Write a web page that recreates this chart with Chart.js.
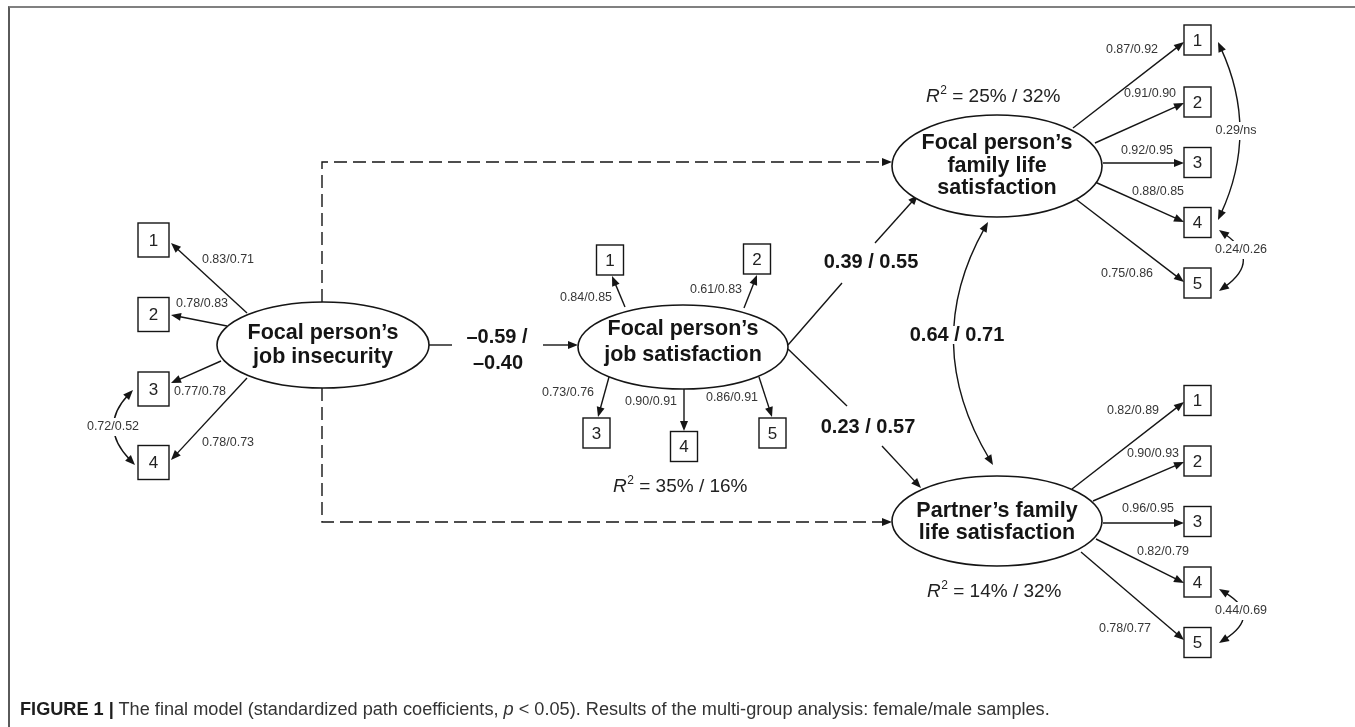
<!DOCTYPE html>
<html lang="en">
  <head>
    <meta charset="UTF-8" />
    <title>Figure 1 - final model</title>
    <script src="https://cdn.jsdelivr.net/npm/chart.js"></script>
    <style>
      html, body { margin: 0; padding: 0; background: #fff; }
      body {
        width: 1355px; height: 727px; overflow: hidden; position: relative;
        font-family: "Liberation Sans", Arial, sans-serif;
      }
      #frame {
        position: absolute; left: 8px; top: 6px; width: 1360px; height: 740px;
        border-top: 2px solid #808080; border-left: 2px solid #5a5a5a;
      }
      #diagram { position: absolute; left: 0; top: 0; }
      #caption {
        position: absolute; left: 20px; top: 699px; font-size: 17.5px; color: #333;
        white-space: nowrap; transform-origin: left top;
      }
      #caption b { color: #1d1d1d; }
    </style>
  </head>
  <body>
    <div id="frame"></div>
    <canvas id="diagram" width="1355" height="727"></canvas>
    <div id="caption"><b>FIGURE 1 |</b> The final model (standardized path coefficients, <i>p</i> &lt; 0.05). Results of the multi-group analysis: female/male samples.</div>

    <script>
      // values: female / male samples
      const indicatorNames = ["1", "2", "3", "4", "5"];

      const insecurityFemale = [0.83, 0.78, 0.77, 0.78];
      const insecurityMale = [0.71, 0.83, 0.78, 0.73];
      const jobSatFemale = [0.84, 0.61, 0.73, 0.90, 0.86];
      const jobSatMale = [0.85, 0.83, 0.76, 0.91, 0.91];
      const focalFamilyFemale = [0.87, 0.91, 0.92, 0.88, 0.75];
      const focalFamilyMale = [0.92, 0.90, 0.95, 0.85, 0.86];
      const partnerFamilyFemale = [0.82, 0.90, 0.96, 0.82, 0.78];
      const partnerFamilyMale = [0.89, 0.93, 0.95, 0.79, 0.77];

      // structural paths: insecurity->jobSat, jobSat->focalFamily, jobSat->partnerFamily
      const pathFemale = [-0.59, 0.39, 0.23];
      const pathMale = [-0.40, 0.55, 0.57];
      const familyCorrelation = [0.64, 0.71];

      // error covariances: insecurity 3-4, focal family 1-4, focal family 4-5, partner family 4-5
      const errorCovFemale = [0.72, 0.29, 0.24, 0.44];
      const errorCovMale = [0.52, null, 0.26, 0.69]; // null = ns

      // explained variance (%): jobSat, focalFamily, partnerFamily
      const rSquaredFemale = [35, 25, 14];
      const rSquaredMale = [16, 32, 32];

      // layout, in diagram units
      const layout = {
        insecurity: {
          ellipse: [323, 345, 106, 43], text: ["Focal person\u2019s", "job insecurity"], textY: [333, 357],
          boxes: { x: [153.5, 153.5, 153.5, 153.5], y: [240, 314.5, 389, 462.5], w: 31, h: 34 },
          arrows: [[247, 313, 171, 243], [227, 326, 171, 315], [221, 361, 171, 383], [247, 378, 171, 460]],
          labels: [[228, 260], [202, 304], [200, 392], [228, 443]],
        },
        jobSat: {
          ellipse: [683, 347, 105, 42], text: ["Focal person\u2019s", "job satisfaction"], textY: [329, 355],
          boxes: { x: [610, 757, 596.5, 684, 772.5], y: [260, 259, 433, 446.5, 433], w: 27, h: 30 },
          arrows: [[625, 307, 612, 276], [744, 308, 757, 275], [609, 377, 598, 417], [684, 389, 684, 431], [759, 377, 772, 417]],
          labels: [[586, 298], [716, 290], [568, 393], [651, 402], [732, 398]],
          r2: [680, 487],
        },
        focalFamily: {
          ellipse: [997, 166, 105, 51], text: ["Focal person\u2019s", "family life", "satisfaction"], textY: [143, 166, 188],
          boxes: { x: [1197.5, 1197.5, 1197.5, 1197.5, 1197.5], y: [40, 102, 162.5, 222.5, 283], w: 27, h: 30 },
          arrows: [[1073, 128, 1184, 42], [1095, 143, 1184, 103], [1103, 163, 1184, 163], [1095, 182, 1184, 222], [1073, 197, 1184, 282]],
          labels: [[1132, 50], [1150, 94], [1147, 151], [1158, 192], [1127, 274]],
          r2: [993, 97],
        },
        partnerFamily: {
          ellipse: [997, 521, 105, 45], text: ["Partner\u2019s family", "life satisfaction"], textY: [511, 533],
          boxes: { x: [1197.5, 1197.5, 1197.5, 1197.5, 1197.5], y: [400.5, 461, 521.5, 582, 642.5], w: 27, h: 30 },
          arrows: [[1072, 489, 1184, 402], [1093, 501, 1184, 462], [1103, 523, 1184, 523], [1096, 539, 1184, 583], [1081, 552, 1184, 640]],
          labels: [[1133, 411], [1153, 454], [1148, 509], [1163, 552], [1125, 629]],
          r2: [994, 592],
        },
        paths: [
          { line: [[428, 345], [452, 345]], arrow: [[543, 345], [578, 345]], label: [[497, 337], [498, 363]] },
          { line: [[788, 345], [842, 283]], arrow: [[875, 243], [918, 195]], label: [[871, 262]] },
          { line: [[788, 349], [847, 406]], arrow: [[882, 446], [921, 488]], label: [[868, 427]] },
        ],
        dashed: [
          [[322, 302], [322, 162], [892, 162]],
          [[322, 388], [322, 522], [892, 522]],
        ],
        familyCurve: { p: [[988, 222], [920, 343], [993, 465]], label: [957, 335] },
        errorCurves: [
          { p: [[133, 390], [98, 427], [135, 465]], label: [113, 427] },
          { p: [[1218, 42], [1259, 131], [1218, 220]], label: [1236, 131] },
          { p: [[1219, 230], [1262, 260], [1219, 291]], label: [1241, 250] },
          { p: [[1219, 589], [1262, 615], [1219, 643]], label: [1241, 611] },
        ],
      };

      const INK = "#151515";
      const FONT = '"Liberation Sans", Arial, sans-serif';

      function fmt(v) {
        if (v === null) return "ns";
        return (v < 0 ? "\u2013" : "") + Math.abs(v).toFixed(2);
      }

      const pathDiagram = {
        id: "pathDiagram",
        afterDraw(chart) {
          const ctx = chart.ctx;
          const sx = chart.scales.x;
          const sy = chart.scales.y;
          const P = (pt) => [sx.getPixelForValue(pt[0]), sy.getPixelForValue(pt[1])];

          ctx.save();
          ctx.strokeStyle = INK;
          ctx.fillStyle = INK;
          ctx.lineCap = "butt";

          function head(tip, ang) {
            const L = 10, W = 4;
            ctx.beginPath();
            ctx.moveTo(tip[0], tip[1]);
            ctx.lineTo(tip[0] - L * Math.cos(ang) + W * Math.sin(ang), tip[1] - L * Math.sin(ang) - W * Math.cos(ang));
            ctx.lineTo(tip[0] - L * Math.cos(ang) - W * Math.sin(ang), tip[1] - L * Math.sin(ang) + W * Math.cos(ang));
            ctx.closePath();
            ctx.fill();
          }

          function polyline(pts, withHead, dash) {
            const px = pts.map(P);
            let last = px[px.length - 1];
            const prev = px[px.length - 2];
            const ang = Math.atan2(last[1] - prev[1], last[0] - prev[0]);
            ctx.lineWidth = 1.4;
            ctx.setLineDash(dash || []);
            ctx.beginPath();
            ctx.moveTo(px[0][0], px[0][1]);
            for (let i = 1; i < px.length - 1; i++) ctx.lineTo(px[i][0], px[i][1]);
            const end = withHead ? [last[0] - 8 * Math.cos(ang), last[1] - 8 * Math.sin(ang)] : last;
            ctx.lineTo(end[0], end[1]);
            ctx.stroke();
            ctx.setLineDash([]);
            if (withHead) head(last, ang);
          }

          function curve(c, text, font) {
            const [a, k, b] = c.p.map(P);
            const a0 = Math.atan2(a[1] - k[1], a[0] - k[0]);
            const b0 = Math.atan2(b[1] - k[1], b[0] - k[0]);
            ctx.lineWidth = 1.4;
            ctx.beginPath();
            ctx.moveTo(a[0] - 7 * Math.cos(a0), a[1] - 7 * Math.sin(a0));
            ctx.quadraticCurveTo(k[0], k[1], b[0] - 7 * Math.cos(b0), b[1] - 7 * Math.sin(b0));
            ctx.stroke();
            head(a, a0);
            head(b, b0);
            const lp = P(c.label);
            ctx.font = font;
            const w = ctx.measureText(text).width;
            ctx.fillStyle = "#fff";
            ctx.fillRect(lp[0] - w / 2 - 2, lp[1] - 9, w + 4, 18);
            ctx.fillStyle = font.indexOf("bold") >= 0 ? INK : "#363636";
            ctx.fillText(text, lp[0], lp[1]);
            ctx.fillStyle = INK;
          }

          function latent(node) {
            const [cx, cy, rx, ry] = node.ellipse;
            const c = P([cx, cy]);
            const rxp = Math.abs(sx.getPixelForValue(cx + rx) - c[0]);
            const ryp = Math.abs(sy.getPixelForValue(cy + ry) - c[1]);
            ctx.fillStyle = "#fff";
            ctx.lineWidth = 1.6;
            ctx.beginPath();
            ctx.ellipse(c[0], c[1], rxp, ryp, 0, 0, Math.PI * 2);
            ctx.fill();
            ctx.stroke();
            ctx.fillStyle = INK;
            ctx.font = "bold 21.5px " + FONT;
            ctx.textAlign = "center";
            ctx.textBaseline = "middle";
            node.text.forEach((t, i) => ctx.fillText(t, c[0], sy.getPixelForValue(node.textY[i])));
          }

          function indicators(node, female, male) {
            const b = node.boxes;
            female.forEach((f, i) => {
              const a = node.arrows[i];
              polyline([[a[0], a[1]], [a[2], a[3]]], true);
            });
            ctx.lineWidth = 1.4;
            female.forEach((f, i) => {
              const c = P([b.x[i], b.y[i]]);
              ctx.fillStyle = "#fff";
              ctx.fillRect(c[0] - b.w / 2, c[1] - b.h / 2, b.w, b.h);
              ctx.strokeRect(c[0] - b.w / 2, c[1] - b.h / 2, b.w, b.h);
              ctx.fillStyle = "#222";
              ctx.font = "17px " + FONT;
              ctx.fillText(indicatorNames[i], c[0], c[1] + 1);
              ctx.fillStyle = "#363636";
              ctx.font = "12.5px " + FONT;
              const lp = P(node.labels[i]);
              ctx.fillText(fmt(f) + "/" + fmt(male[i]), lp[0], lp[1]);
            });
            ctx.fillStyle = INK;
          }

          function rSquared(pos, f, m) {
            const c = P(pos);
            const rest = " = " + f + "% / " + m + "%";
            ctx.font = "italic 19px " + FONT;
            const wR = ctx.measureText("R").width;
            ctx.font = "12px " + FONT;
            const w2 = ctx.measureText("2").width;
            ctx.font = "19px " + FONT;
            const wRest = ctx.measureText(rest).width;
            let x0 = c[0] - (wR + w2 + wRest) / 2;
            ctx.textAlign = "left";
            ctx.fillStyle = "#222";
            ctx.font = "italic 19px " + FONT;
            ctx.fillText("R", x0, c[1]);
            ctx.font = "12px " + FONT;
            ctx.fillText("2", x0 + wR + 0.5, c[1] - 6);
            ctx.font = "19px " + FONT;
            ctx.fillText(rest, x0 + wR + w2 + 0.5, c[1]);
            ctx.textAlign = "center";
            ctx.fillStyle = INK;
          }

          ctx.textAlign = "center";
          ctx.textBaseline = "middle";

          // dashed direct paths from job insecurity
          layout.dashed.forEach((d) => polyline(d, true, [13, 6]));

          // structural paths
          layout.paths.forEach((p, i) => {
            polyline(p.line, false);
            polyline(p.arrow, true);
            ctx.font = "bold 20px " + FONT;
            ctx.fillStyle = INK;
            if (p.label.length === 2) {
              const l1 = P(p.label[0]);
              const l2 = P(p.label[1]);
              ctx.fillText(fmt(pathFemale[i]) + " /", l1[0], l1[1]);
              ctx.fillText(fmt(pathMale[i]), l2[0], l2[1]);
            } else {
              const l = P(p.label[0]);
              ctx.fillText(fmt(pathFemale[i]) + " / " + fmt(pathMale[i]), l[0], l[1]);
            }
          });

          // correlation of the two family life satisfaction factors
          curve(layout.familyCurve, fmt(familyCorrelation[0]) + " / " + fmt(familyCorrelation[1]), "bold 20px " + FONT);

          // measurement models
          indicators(layout.insecurity, insecurityFemale, insecurityMale);
          indicators(layout.jobSat, jobSatFemale, jobSatMale);
          indicators(layout.focalFamily, focalFamilyFemale, focalFamilyMale);
          indicators(layout.partnerFamily, partnerFamilyFemale, partnerFamilyMale);

          latent(layout.insecurity);
          latent(layout.jobSat);
          latent(layout.focalFamily);
          latent(layout.partnerFamily);

          // error covariances
          layout.errorCurves.forEach((c, i) => {
            curve(c, fmt(errorCovFemale[i]) + "/" + fmt(errorCovMale[i]), "12.5px " + FONT);
          });

          rSquared(layout.jobSat.r2, rSquaredFemale[0], rSquaredMale[0]);
          rSquared(layout.focalFamily.r2, rSquaredFemale[1], rSquaredMale[1]);
          rSquared(layout.partnerFamily.r2, rSquaredFemale[2], rSquaredMale[2]);

          ctx.restore();
        },
      };

      const chart = new Chart(document.getElementById("diagram"), {
        type: "scatter",
        data: { datasets: [] },
        options: {
          responsive: false,
          animation: false,
          events: [],
          layout: { padding: 0 },
          plugins: { legend: { display: false }, tooltip: { enabled: false } },
          scales: {
            x: { type: "linear", min: 0, max: 1355, display: false },
            y: { type: "linear", min: 0, max: 727, reverse: true, display: false },
          },
        },
        plugins: [pathDiagram],
      });

      // caption spans about 1030px in the original
      const cap = document.getElementById("caption");
      const capWidth = cap.getBoundingClientRect().width;
      cap.style.transform = "scaleX(" + (1030 / capWidth).toFixed(3) + ")";
    </script>
  </body>
</html>
